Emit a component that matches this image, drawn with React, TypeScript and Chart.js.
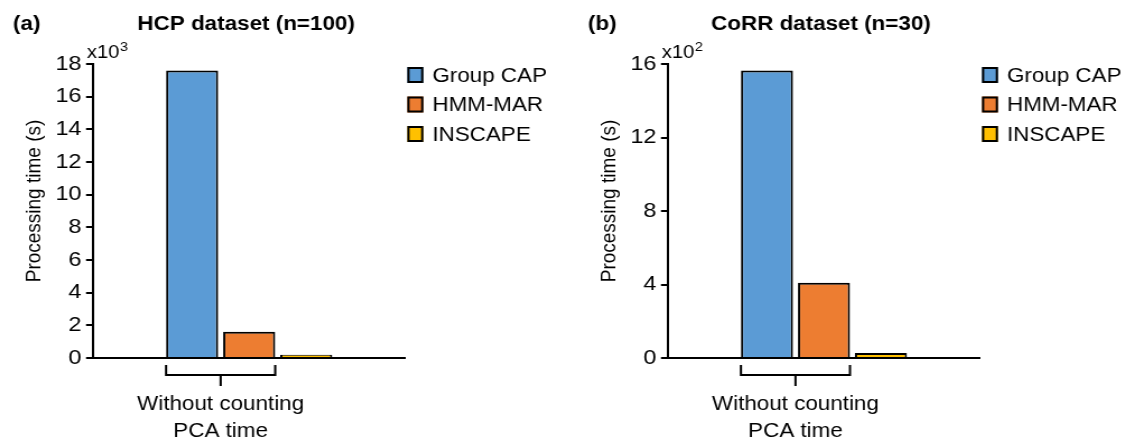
import { useEffect, useRef } from 'react';
import { Chart, registerables } from 'chart.js';

Chart.register(...registerables);

// Methods compared, shared by both panels
const methods = ['Group CAP', 'HMM-MAR', 'INSCAPE'];
const methodColors = ['#5B9BD5', '#ED7D31', '#FFC000'];

// Single category on the x axis (two text lines)
const categoryLines = ['Without counting', 'PCA time'];

// Processing times in seconds
const hcpTimes = [17600, 1600, 200];
const corrTimes = [1565, 410, 27];

// Axis ranges: ticks are shown in units of 10^exponent
const hcpAxis = { max: 18000, step: 2000, exponent: 3 };
const corrAxis = { max: 1600, step: 400, exponent: 2 };

const FONT = '"Liberation Sans", Arial, Helvetica, sans-serif';
// The figure is drawn slightly condensed and widened by CSS
const SX = 1.12;
const H = 443;

type PanelCfg = {
  letter: string;
  title: string;
  values: number[];
  axis: { max: number; step: number; exponent: number };
};

function makeDecorations(cfg: PanelCfg) {
  return {
    id: 'panelDecorations',
    afterDraw(chart: any) {
      const { ctx, chartArea } = chart;
      const bottom = chartArea.bottom;
      ctx.save();
      ctx.fillStyle = '#000';
      ctx.strokeStyle = '#000';

      // Panel letter and title
      ctx.font = `bold 20px ${FONT}`;
      ctx.textBaseline = 'alphabetic';
      ctx.textAlign = 'left';
      ctx.fillText(cfg.letter, 11.6, 30);
      ctx.textAlign = 'center';
      ctx.fillText(cfg.title, 219.6, 30);

      // Scale multiplier above the y axis
      ctx.textAlign = 'left';
      ctx.font = `18px ${FONT}`;
      const xLeft = chartArea.left - 5.5;
      ctx.fillText('x10', xLeft, 58);
      const w = ctx.measureText('x10').width;
      ctx.font = `13px ${FONT}`;
      ctx.fillText(String(cfg.axis.exponent), xLeft + w + 0.5, 51);

      // Y axis title
      ctx.save();
      ctx.translate(31.25, 201);
      ctx.rotate(-Math.PI / 2);
      ctx.font = `19px ${FONT}`;
      ctx.textAlign = 'center';
      ctx.textBaseline = 'middle';
      ctx.fillText('Processing time (s)', 0, 0);
      ctx.restore();

      // Bracket under the first two bars
      const b0 = chart.getDatasetMeta(0).data[0];
      const b1 = chart.getDatasetMeta(1).data[0];
      const bl = b0.x - b0.width / 2;
      const br = b1.x + b1.width / 2;
      const mid = (bl + br) / 2;
      ctx.lineWidth = 2;
      ctx.beginPath();
      ctx.moveTo(bl, bottom + 7);
      ctx.lineTo(bl, bottom + 17);
      ctx.lineTo(br, bottom + 17);
      ctx.lineTo(br, bottom + 7);
      ctx.moveTo(mid, bottom + 17);
      ctx.lineTo(mid, bottom + 28);
      ctx.stroke();

      // Category label
      const lines = chart.data.labels[0] as string[];
      ctx.font = `20px ${FONT}`;
      ctx.textAlign = 'center';
      ctx.textBaseline = 'alphabetic';
      lines.forEach((t: string, i: number) => {
        ctx.fillText(t, mid, bottom + 52 + i * 27);
      });

      // Legend
      const lx = chartArea.right + 1.8;
      ctx.textAlign = 'left';
      ctx.textBaseline = 'middle';
      chart.data.datasets.forEach((ds: any, i: number) => {
        const cy = 75 + i * 29.5;
        ctx.fillStyle = ds.backgroundColor;
        ctx.fillRect(lx, cy - 8, 14.3, 16);
        ctx.lineWidth = 2;
        ctx.strokeRect(lx + 1, cy - 7, 12.3, 14);
        ctx.fillStyle = '#000';
        ctx.fillText(ds.label, lx + 22.3, cy + 1);
      });

      ctx.restore();
    },
  };
}

function Panel({ cfg, left, cssWidth }: { cfg: PanelCfg; left: number; cssWidth: number }) {
  const ref = useRef<HTMLCanvasElement>(null);
  const drawWidth = Math.round(cssWidth / SX);

  useEffect(() => {
    if (!ref.current) return;
    const unit = Math.pow(10, cfg.axis.exponent);
    const chart = new Chart(ref.current, {
      type: 'bar',
      data: {
        labels: [categoryLines],
        datasets: methods.map((m, i) => ({
          label: m,
          data: [cfg.values[i]],
          backgroundColor: methodColors[i],
          borderColor: '#000',
          borderWidth: 2,
          borderSkipped: 'start',
          categoryPercentage: 0.548,
          barPercentage: 0.913,
        })),
      },
      options: {
        responsive: false,
        animation: false,
        devicePixelRatio: 1,
        layout: { padding: { left: 0, top: 64, right: drawWidth - 361.6, bottom: H - 358 } },
        plugins: {
          legend: { display: false },
          title: { display: false },
          tooltip: { enabled: false },
        },
        scales: {
          x: {
            type: 'category',
            grid: { display: false },
            ticks: { display: false },
            border: { display: true, color: '#000', width: 2 },
            afterFit: (s: any) => {
              s.height = 0;
            },
          },
          y: {
            min: 0,
            max: cfg.axis.max,
            ticks: {
              stepSize: cfg.axis.step,
              autoSkip: false,
              padding: 4,
              color: '#000',
              font: { family: FONT, size: 21 },
              callback: (v: any) => String(Number(v) / unit),
            },
            grid: {
              display: true,
              drawOnChartArea: false,
              drawTicks: true,
              tickLength: 6.25,
              color: '#000',
              lineWidth: 2,
            },
            border: { display: true, color: '#000', width: 2 },
            afterFit: (s: any) => {
              s.width = 83;
            },
          },
        },
      },
      plugins: [makeDecorations(cfg)],
    } as any);
    return () => chart.destroy();
  }, []);

  return (
    <canvas
      ref={ref}
      width={drawWidth}
      height={H}
      style={{ position: 'absolute', left, top: 0, width: cssWidth, height: H }}
    />
  );
}

const hcpPanel: PanelCfg = { letter: '(a)', title: 'HCP dataset (n=100)', values: hcpTimes, axis: hcpAxis };
const corrPanel: PanelCfg = { letter: '(b)', title: 'CoRR dataset (n=30)', values: corrTimes, axis: corrAxis };

export default function App() {
  return (
    <div
      style={{
        position: 'fixed',
        left: 0,
        top: 0,
        width: 1126,
        height: H,
        background: '#fff',
        overflow: 'hidden',
      }}
    >
      <Panel cfg={hcpPanel} left={0} cssWidth={575} />
      <Panel cfg={corrPanel} left={575} cssWidth={551} />
    </div>
  );
}
